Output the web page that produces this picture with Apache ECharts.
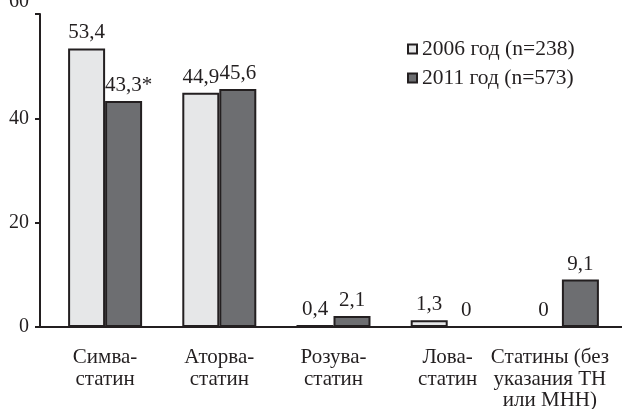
<!DOCTYPE html>
<html>
<head>
<meta charset="utf-8">
<script src="https://cdn.jsdelivr.net/npm/echarts@6/dist/echarts.min.js"></script>
<style>
  html, body { margin: 0; padding: 0; background: #fff; }
  #chart { width: 622px; height: 409px; }
</style>
</head>
<body>
<div id="chart"></div>
<script>
// Statin prescriptions, % of patients
const categories = ['Симва-\nстатин', 'Аторва-\nстатин', 'Розува-\nстатин', 'Лова-\nстатин', 'Статины (без\nуказания ТН\nили МНН)'];
const seriesNames = ['2006 год (n=238)', '2011 год (n=573)'];
const values2006 = [53.4, 44.9, 0.4, 1.3, 0];
const values2011 = [43.3, 45.6, 2.1, 0, 9.1];
const notes2011 = ['*', '', '', '', ''];
const yTicks = [0, 20, 40, 60];

const FONT = 'Liberation Serif';
const INK = '#231f20';
const SIZE = 20;
const fmt = v => String(v).replace('.', ',');

const chart = echarts.init(document.getElementById('chart'), null, { renderer: 'canvas' });

const barLabel = {
  show: true,
  position: 'top',
  distance: 5,
  color: INK,
  fontFamily: FONT,
  fontSize: 21
};

const data2011 = values2011.map((v, i) => notes2011[i]
  ? { value: v, note: notes2011[i], label: { padding: [0, 0, 0, 10] } }
  : { value: v, note: '' });

// the long last caption sits a little left of its band
const lastIdx = categories.length - 1;
const catFormatter = (v, i) => i === lastIdx
  ? v.split('\n').map(s => '{shift|' + s + '}').join('\n')
  : v;

chart.setOption({
  animation: false,
  backgroundColor: '#fff',
  textStyle: { fontFamily: FONT, color: INK },
  legend: {
    orient: 'vertical',
    left: 402,
    top: 33,
    itemWidth: 9,
    itemHeight: 9,
    itemGap: 7,
    icon: 'rect',
    textStyle: { fontFamily: FONT, fontSize: 21.5, color: INK },
    data: seriesNames
  },
  grid: [
    { left: 40, right: 0, top: 14, bottom: 82, containLabel: false, outerBoundsMode: 'none' },
    { left: 48, right: 3, top: 14, bottom: 82, containLabel: false, outerBoundsMode: 'none' }
  ],
  xAxis: [
    {
      gridIndex: 0, type: 'value', min: 0, max: 1,
      axisLine: { show: true, lineStyle: { color: INK, width: 2 } },
      axisTick: { show: false }, axisLabel: { show: false }, splitLine: { show: false }
    },
    {
      gridIndex: 1, type: 'category', data: categories,
      axisLine: { show: false }, axisTick: { show: false },
      axisLabel: {
        interval: 0, margin: 20, lineHeight: 21.5,
        fontFamily: FONT, fontSize: 21, color: INK,
        formatter: catFormatter,
        rich: { shift: { padding: [0, 24, 0, 0], fontFamily: FONT, fontSize: 21, color: INK, lineHeight: 21.5 } }
      }
    }
  ],
  yAxis: [
    {
      gridIndex: 0, type: 'value', min: yTicks[0], max: yTicks[yTicks.length - 1], interval: 20,
      axisLine: { show: true, lineStyle: { color: INK, width: 2 } },
      axisTick: { show: true, length: 5, inside: false, lineStyle: { color: INK, width: 2 } },
      splitLine: { show: false },
      axisLabel: {
        margin: 11, fontFamily: FONT, fontSize: SIZE, color: INK,
        formatter: v => v === 60 ? '{top|' + v + '}' : String(v),
        rich: { top: { padding: [0, 0, 24, 0], fontFamily: FONT, fontSize: SIZE, color: INK } }
      }
    },
    {
      gridIndex: 1, type: 'value', min: yTicks[0], max: yTicks[yTicks.length - 1],
      show: false
    }
  ],
  series: [
    {
      name: seriesNames[0], type: 'bar', xAxisIndex: 1, yAxisIndex: 1,
      data: values2006,
      barWidth: 37, barGap: '0%',
      itemStyle: { color: '#e6e7e8', borderColor: INK, borderWidth: 2 },
      label: Object.assign({}, barLabel, { formatter: p => fmt(p.value) })
    },
    {
      name: seriesNames[1], type: 'bar', xAxisIndex: 1, yAxisIndex: 1,
      data: data2011,
      barWidth: 37, barGap: '0%',
      itemStyle: { color: '#6d6e71', borderColor: INK, borderWidth: 2 },
      label: Object.assign({}, barLabel, { formatter: p => fmt(p.value) + p.data.note })
    }
  ]
});
</script>
</body>
</html>
